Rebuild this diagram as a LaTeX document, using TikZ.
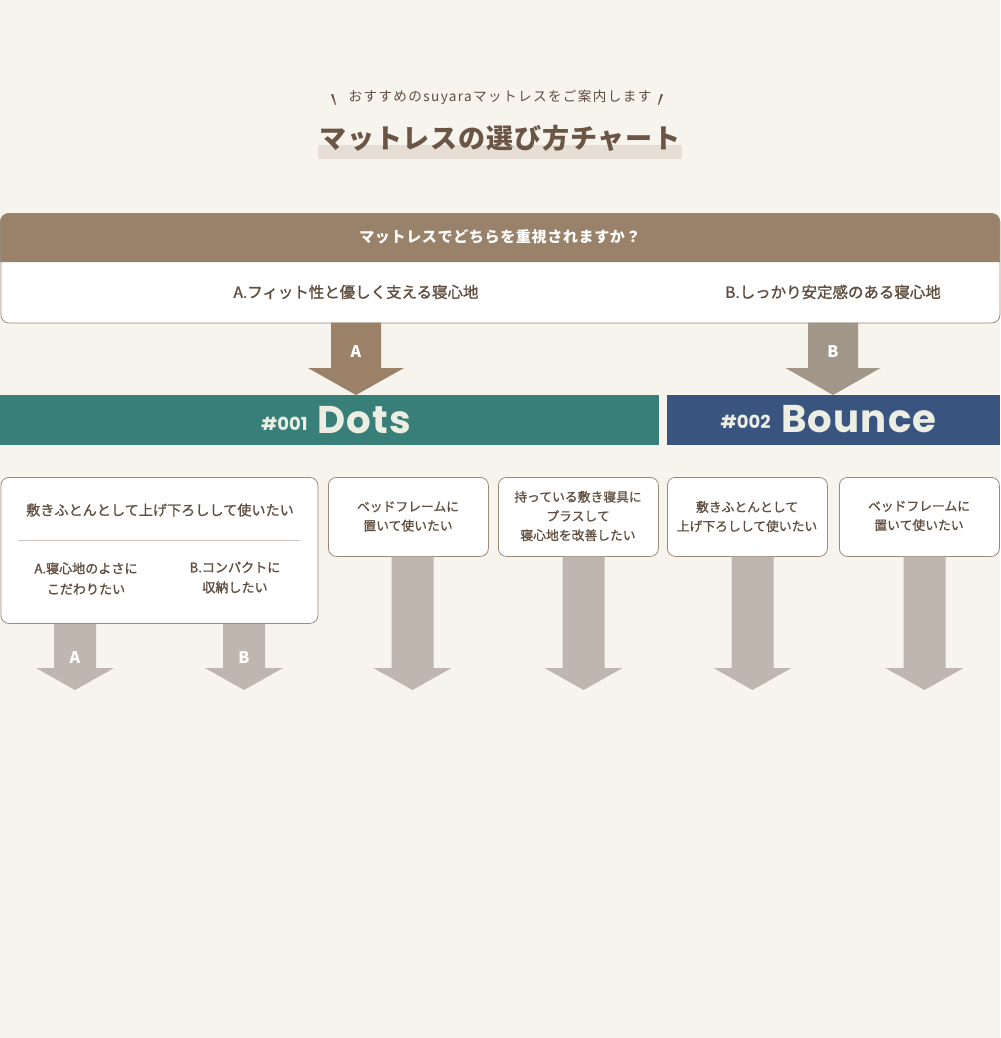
\documentclass[tikz,border=0pt]{standalone}
\usepackage{fontspec}
\setmainfont{Noto Sans CJK JP}
\newfontfamily\popfont{Poppins}
\newfontfamily\medfont{Noto Sans CJK JP}[FakeBold=0.9]
\definecolor{bgc}{HTML}{F7F4EE}
\definecolor{hdr}{HTML}{9A826A}
\definecolor{txt}{HTML}{5F4E3F}
\definecolor{ttl}{HTML}{6B5544}
\definecolor{hil}{HTML}{E6DED4}
\definecolor{teal}{HTML}{377F78}
\definecolor{navy}{HTML}{39557F}
\definecolor{arrA}{HTML}{9C8169}
\definecolor{arrB}{HTML}{A29689}
\definecolor{arrG}{HTML}{BEB6AF}
\definecolor{bord}{HTML}{9C8A78}
\definecolor{divc}{HTML}{CCC6C2}
\definecolor{bartxt}{HTML}{ECEDE3}
\newcommand\flowarrow[7]{\fill[#1] (#2-#5,#3) -- (#2+#5,#3) -- (#2+#5,#4) -- (#2+#6,#4) -- (#2,#7) -- (#2-#6,#4) -- (#2-#5,#4) -- cycle;}
\tikzset{
  choicebox/.style={draw=bord, line width=0.6pt, fill=white, rounded corners=6pt, inner sep=0pt},
  boxtxt/.style={text=txt, font=\medfont\fontsize{9.6}{14.4}\selectfont, align=center, inner sep=0pt},
  anstxt/.style={text=txt, font=\medfont\fontsize{11.6}{14}\selectfont\addfontfeatures{FakeBold=1.3}, inner sep=0pt},
  arrlbl/.style={text=white, font=\fontsize{12}{14}\selectfont\bfseries, inner sep=0pt},
  barsmall/.style={text=bartxt, font=\popfont\fontsize{13.5}{16}\selectfont\bfseries, inner sep=0pt},
  barbig/.style={text=bartxt, font=\popfont\fontsize{29}{34}\selectfont\bfseries\addfontfeatures{LetterSpace=3}, inner sep=0pt},
}
\begin{document}
\begin{tikzpicture}[x=0.75pt,y=-0.75pt]
\useasboundingbox (0,0) rectangle (1000,1038);
\fill[bgc] (0,0) rectangle (1000,1038);
% heading
\fill[ttl] (331,94.5) -- (333.2,94) -- (336,104.5) -- (335.2,105) -- cycle;
\fill[ttl] (663,94.5) -- (660.8,94) -- (658,104.5) -- (658.8,105) -- cycle;
\node[text=txt, font=\fontsize{10.2}{12}\selectfont\addfontfeatures{LetterSpace=10}, inner sep=0pt] (sub) at (500,97) {おすすめのsuyaraマットレスをご案内します};
\fill[hil] (318,145) rectangle (682,159);
\node[text=ttl, font=\fontsize{20.3}{24}\selectfont\bfseries\addfontfeatures{LetterSpace=3}, inner sep=0pt] (title) at (500,138) {マットレスの選び方チャート};
% question box
\node[choicebox, minimum width=749.25pt, minimum height=81.75pt, anchor=north west] (qbox) at (0.5,213.5) {};
\fill[hdr] (0.5,262) [rounded corners=6pt] -- (0.5,213.5) -- (999.5,213.5) [sharp corners] -- (999.5,262) -- cycle;
\draw[bord, line width=0.6pt, rounded corners=6pt] (0.5,262) -- (0.5,213.5) -- (999.5,213.5) -- (999.5,262);
\node[text=white, font=\fontsize{11.3}{14}\selectfont\bfseries\addfontfeatures{LetterSpace=4}, inner sep=0pt] (q) at (500,237) {マットレスでどちらを重視されますか？};
\node[anstxt] (qa) at (356,292) {A.フィット性と優しく支える寝心地};
\node[anstxt] (qb) at (833,292) {B.しっかり安定感のある寝心地};
% top arrows
\flowarrow{arrA}{356}{322.5}{368}{25}{48}{395}
\node[arrlbl] (la) at (356,352) {A};
\flowarrow{arrB}{833}{322.5}{368}{25}{47.5}{395}
\node[arrlbl] (lb) at (833,352) {B};
% bars
\fill[teal] (0,395) rectangle (659,445);
\fill[navy] (667,395) rectangle (1000,445);
\node[barsmall, anchor=base east] (n1) at (308,430) {\#001};
\node[barbig, anchor=base west] (dots) at (317,433) {Dots};
\node[barsmall, anchor=base east] (n2) at (771,428) {\#002};
\node[barbig, anchor=base west] (bounce) at (781,432) {Bounce};
% box 1
\node[choicebox, minimum width=237.75pt, minimum height=109.5pt, anchor=north west] (b1) at (0.5,477) {};
\node[boxtxt, font=\medfont\fontsize{10.6}{14}\selectfont] (b1t) at (160,510) {敷きふとんとして上げ下ろしして使いたい};
\draw[divc, line width=0.75pt] (18,540) -- (300,540);
\node[boxtxt, font=\medfont\fontsize{9.8}{15.5}\selectfont\addfontfeatures{FakeBold=1.3}] (b1a) at (86,578.5) {A.寝心地のよさに\\こだわりたい};
\node[boxtxt, font=\medfont\fontsize{9.8}{15}\selectfont\addfontfeatures{FakeBold=1.3}] (b1b) at (235,577.5) {B.コンパクトに\\収納したい};
\flowarrow{arrG}{75}{624}{668}{21}{39}{690}
\node[arrlbl] (l1a) at (75,658) {A};
\flowarrow{arrG}{244}{624}{668}{21}{39}{690}
\node[arrlbl] (l1b) at (244,658) {B};
% boxes 2-5
\node[choicebox, minimum width=120pt, minimum height=59.25pt, anchor=north west] (b2) at (328,477) {};
\node[boxtxt] (b2t) at (408,516.5) {ベッドフレームに\\置いて使いたい};
\node[choicebox, minimum width=120pt, minimum height=59.25pt, anchor=north west] (b3) at (498,477) {};
\node[boxtxt] (b3t) at (578,516) {持っている敷き寝具に\\プラスして\\寝心地を改善したい};
\node[choicebox, minimum width=120pt, minimum height=59.25pt, anchor=north west] (b4) at (667,477) {};
\node[boxtxt] (b4t) at (747,516.5) {敷きふとんとして\\上げ下ろしして使いたい};
\node[choicebox, minimum width=120pt, minimum height=59.25pt, anchor=north west] (b5) at (839,477) {};
\node[boxtxt] (b5t) at (919,516) {ベッドフレームに\\置いて使いたい};
\flowarrow{arrG}{412.5}{556.5}{668}{21}{39}{690}
\flowarrow{arrG}{583.5}{556.5}{668}{21}{39}{690}
\flowarrow{arrG}{752.5}{556.5}{668}{21}{39}{690}
\flowarrow{arrG}{924.5}{556.5}{668}{21}{39}{690}
\end{tikzpicture}
\end{document}
